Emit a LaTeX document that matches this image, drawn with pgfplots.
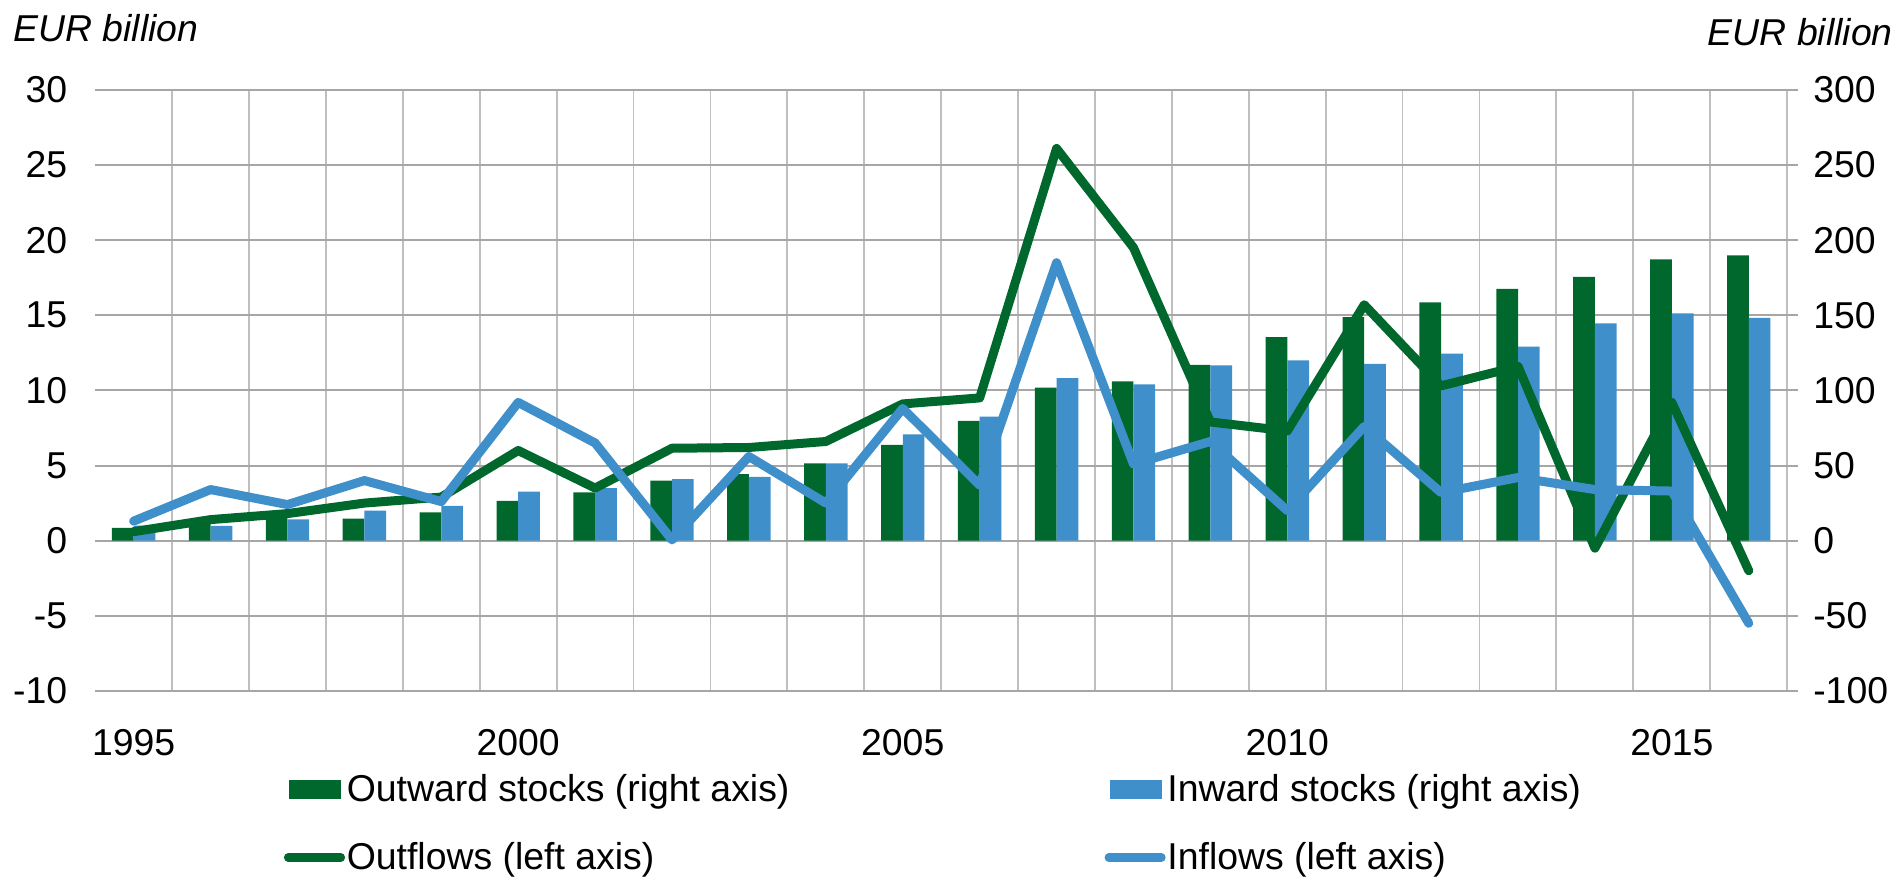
\documentclass[border=0pt]{standalone}
\usepackage{fontspec}
\setmainfont{Liberation Sans}
\usepackage{pgfplots}
\usepackage{pgfplotstable}
\pgfplotsset{compat=1.18}

\definecolor{outgreen}{HTML}{00682D}
\definecolor{inblue}{HTML}{3F8FCB}
\definecolor{hgrid}{HTML}{A6A6A6}
\definecolor{vgrid}{HTML}{BFBFBF}

% stocks: EUR billion, right axis; flows: EUR billion, left axis
\pgfplotstableread{
year outst inst outfl infl
1995 8.5 10 0.6 1.3
1996 12 9.8 1.4 3.4
1997 15 14.2 1.8 2.4
1998 14.6 20 2.5 4.0
1999 18.9 23.1 2.9 2.6
2000 26.4 32.6 6.0 9.2
2001 32.2 35 3.5 6.5
2002 40 41 6.15 0.05
2003 44.2 42.4 6.2 5.6
2004 51.5 51.5 6.6 2.5
2005 63.7 70.8 9.1 8.8
2006 79.7 82.6 9.5 3.7
2007 101.9 108.1 26.1 18.5
2008 106 104 19.5 5.1
2009 117 116.7 7.9 6.6
2010 135.4 120 7.3 2.0
2011 148.8 117.6 15.7 7.6
2012 158.6 124.4 10.3 3.2
2013 167.6 129.2 11.6 4.2
2014 175.5 144.6 -0.5 3.4
2015 187.2 151.2 9.2 3.3
2016 189.9 148.2 -2.0 -5.5
}\data

\newcommand\chartfont{\fontsize{18.7}{22.4}\selectfont}

\pgfplotsset{
  common/.style={
    at={(0,0)}, anchor=south west,
    scale only axis, width=846pt, height=300.5pt,
    xmin=1994.5, xmax=2016.5,
    axis line style={draw=none},
    tick label style={font=\chartfont},
    /pgf/number format/assume math mode=true,
    /pgf/number format/1000 sep={},
  }
}

\begin{document}
\begin{tikzpicture}[font=\chartfont]
\useasboundingbox (-47.6pt,-93.05pt) rectangle (902.4pt,345.45pt);

% bars on the right axis, with the grid
\begin{axis}[common,
  ymin=-100, ymax=300,
  ybar=0pt, bar width=10.85pt,
  xtick={1995,2000,2005,2010,2015},
  xtick style={draw=none},
  xticklabel style={yshift=-10pt},
  minor xtick={1995.5,1996.5,...,2016.5},
  minor tick length=0pt,
  xminorgrids,
  minor x grid style={vgrid, line width=0.9pt},
  ytick={-100,-50,...,300},
  ytick pos=right, yticklabel pos=right,
  ymajorgrids,
  major y grid style={hgrid, line width=1pt},
  ytick style={hgrid, line width=1pt},
  tick align=outside, major tick length=5.5pt,
  yticklabel style={xshift=4pt},
]
\addplot[fill=outgreen, draw=none] table[x=year, y=outst] {\data};
\addplot[fill=inblue, draw=none] table[x=year, y=inst] {\data};
\end{axis}

% flows on the left axis
\begin{axis}[common,
  ymin=-10, ymax=30,
  xtick=\empty,
  ytick={-10,-5,...,30},
  ytick pos=left, yticklabel pos=left,
  major tick length=0pt,
  yticklabel style={xshift=-10.5pt},
]
\addplot[outgreen, line width=4.5pt, line cap=round, line join=round, mark=none]
  table[x=year, y=outfl] {\data};
\addplot[inblue, line width=4.5pt, line cap=round, line join=round, mark=none]
  table[x=year, y=infl] {\data};
\end{axis}

% axis titles
\node[anchor=base west, inner sep=0, font=\chartfont\itshape]
  at (-41.1pt,324.5pt) {EUR billion};
\node[anchor=base east, inner sep=0, font=\chartfont\itshape]
  at (899pt,322.6pt) {EUR billion};

% legend
\fill[outgreen] (97.1pt,-54.05pt) rectangle (122.9pt,-44.55pt);
\node[anchor=base west, inner sep=0] at (125.6pt,-55.3pt) {Outward stocks (right axis)};
\fill[inblue] (507.4pt,-54.05pt) rectangle (533.2pt,-44.55pt);
\node[anchor=base west, inner sep=0] at (535.9pt,-55.3pt) {Inward stocks (right axis)};
\draw[outgreen, line width=4.25pt, line cap=round] (96.5pt,-83.3pt) -- (122.8pt,-83.3pt);
\node[anchor=base west, inner sep=0] at (125.6pt,-89.3pt) {Outflows (left axis)};
\draw[inblue, line width=4.25pt, line cap=round] (506.8pt,-83.3pt) -- (533.1pt,-83.3pt);
\node[anchor=base west, inner sep=0] at (535.9pt,-89.3pt) {Inflows (left axis)};
\end{tikzpicture}
\end{document}
